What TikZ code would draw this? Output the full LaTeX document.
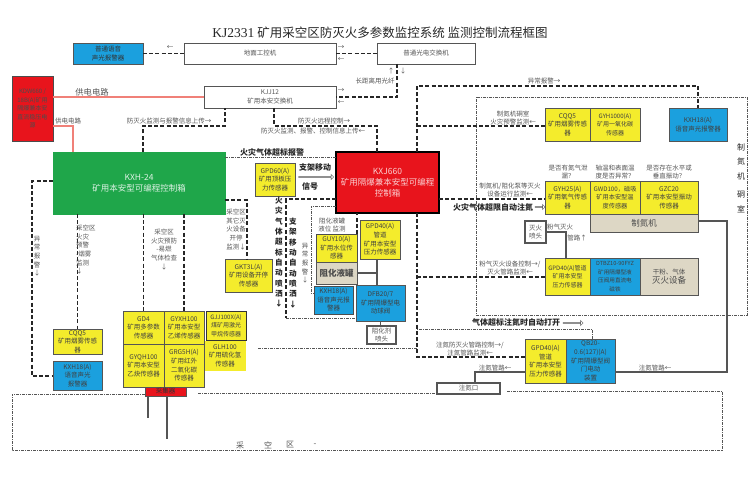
\documentclass[tikz,border=0pt]{standalone}
\usepackage{fontspec}
\usepackage{xcolor}
\usetikzlibrary{shapes.arrows,arrows.meta,positioning}
\setmainfont{Noto Sans CJK SC}
\newfontfamily\latnfont{Liberation Serif}
\definecolor{kjyellow}{HTML}{F4EC2C}
\definecolor{kjblue}{HTML}{1BA0DE}
\definecolor{kjred}{HTML}{E8141C}
\definecolor{kjgreen}{HTML}{1FA64A}
\definecolor{kjbeige}{HTML}{DDD7C5}
\definecolor{kjgray}{HTML}{555555}
\definecolor{kjpink}{HTML}{F08078}
\newcommand{\cnsmall}{\fontsize{6.5}{8.6}\selectfont}
\newcommand{\cnbig}{\fontsize{7.6}{10.3}\selectfont}

\begin{document}
\begin{tikzpicture}[
    x=1pt,y=-1pt,
    box/.style={rectangle,draw=kjgray,line width=0.9pt,anchor=north west,inner sep=0pt,
                outer sep=0pt,align=center,font=\cnsmall,text=kjgray},
    sz/.style 2 args={minimum width=#1pt,minimum height=#2pt},
    sensor/.style={box,fill=kjyellow,text=black!75},
    bluebox/.style={box,fill=kjblue,text=black!75},
    plainbox/.style={box,fill=white},
    tankbox/.style={box,fill=kjbeige,text=black!70},
    note/.style={font=\cnsmall,text=kjgray,align=center,inner sep=0pt},
    boldnote/.style={font=\cnbig\bfseries,text=black!85,align=center,inner sep=0pt},
    sig/.style={line width=1.2pt,black!85,dash pattern=on 4pt off 2.2pt},
    fine/.style={line width=0.7pt,kjgray,dash pattern=on 3pt off 1pt on 1pt off 1pt},
    pow/.style={line width=2pt,kjpink},
    pipe/.style={line width=1.7pt,kjgray},
    hollow/.style={single arrow,draw=kjgray,fill=white,line width=0.5pt,inner sep=0pt,
                   single arrow head extend=2pt,minimum width=5pt}
  ]
    \useasboundingbox (0,0) rectangle (750,481);

    \node[font=\fontsize{12.5}{14}\selectfont,text=black!85,inner sep=0pt] (title) at (380,33)
      {{\latnfont\fontsize{13.5}{14}\selectfont KJ2331}\ 矿用采空区防灭火多参数监控系统\ 监测控制流程框图};

    % Frames of the two zones
    \node[rectangle,fine,draw,anchor=north west,inner sep=0pt,sz={271}{218}] (room) at (476,97) {};
    \draw[fine] (145,394) -- (12,394) -- (12,450) -- (722,450) -- (722,391) -- (506,391);
    \draw[fine] (198,393) -- (437,393);
    \draw[fine] (258,348) -- (417,348);

    % Top row
    \node[bluebox,sz={70}{21},text=black!80] (voice) at (73,43) {普通语音\\声光报警器};
    \node[plainbox,sz={152}{21}] (ipc) at (184,43) {地面工控机};
    \node[plainbox,sz={98}{21}] (optic) at (377,43) {普通光电交换机};
    \node[plainbox,sz={132}{22}] (kjj) at (204,86) {KJJ12\\矿用本安交换机};
    \node[box,fill=kjred,draw=black!70,sz={41}{65},text=black!70,font=\fontsize{6}{8.6}\selectfont]
      (psu) at (12,76) {KDW660 /\\18B(A)矿用\\隔爆兼本安\\直流稳压电\\源};

    % Controllers
    \node[box,fill=kjgreen,draw=kjgreen,sz={172}{62},text=white!85!kjgreen,
          font=\fontsize{8.5}{11}\selectfont] (plc) at (53,152)
      {KXH-24\\矿用本安型可编程控制箱};
    \node[box,fill=kjred,draw=black,line width=1.8pt,sz={103}{61},text=white!80!kjred,
          font=\fontsize{8.5}{11}\selectfont] (kxj) at (336,152)
      {KXJ660\\矿用隔爆兼本安型可编程\\控制箱};

    % Sensors left
    \node[sensor,sz={49}{25}] (cqqa) at (53,329) {CQQ5\\矿用烟雾传感\\器};
    \node[bluebox,sz={49}{29}] (voicea) at (53,361) {KXH18(A)\\语音声光\\报警器};
    \node[sensor,sz={41}{33}] (gda) at (123,311) {GD4\\矿用多参数\\传感器};
    \node[sensor,sz={40}{33},right=0pt of gda] (gyx) {GYXH100\\矿用本安型\\乙烯传感器};
    \node[sensor,sz={41}{43},below=0pt of gda] (gyq) {GYQH100\\矿用本安型\\乙炔传感器};
    \node[sensor,sz={40}{43},below=0pt of gyx] (grg) {GRG5H(A)\\矿用红外\\二氧化碳\\传感器};
    \node[sensor,draw=black!80,sz={40}{29},font=\fontsize{6}{8.6}\selectfont] (gjj) at (206,311)
      {GJJ100X(A)\\煤矿用激光\\甲烷传感器};
    \node[sensor,draw=kjyellow,sz={40}{29}] (glh) at (205,341) {GLH100\\矿用硫化氢\\传感器};
    \node[box,fill=kjred,draw=kjgray,sz={41}{9},text=black!80] (collect) at (145,387) {采集器};
    \node[sensor,sz={47}{33}] (gkt) at (225,259) {GKT3L(A)\\矿用设备开停\\传感器};
    \node[sensor,sz={40}{33}] (gpdsix) at (255,163) {GPD60(A)\\矿用顶板压\\力传感器};

    % Under the explosion-proof box
    \node[sensor,draw=black!70,sz={41}{28}] (guy) at (316,234) {GUY10(A)\\矿用水位传\\感器};
    \node[tankbox,sz={41}{22},below=0pt of guy,font=\fontsize{8.5}{10}\bfseries] (tank) {阻化液罐};
    \node[sensor,sz={40}{39}] (gpdfour) at (360,220) {GPD40(A)\\管道\\矿用本安型\\压力传感器};
    \node[bluebox,sz={39}{28},draw=black!70] (voiceb) at (314,286) {KXH18(A)\\语音声光报\\警器};
    \node[bluebox,sz={49}{36}] (dfb) at (356,285) {DFB20/7\\矿用隔爆型电\\动球阀};
    \node[plainbox,sz={29}{18},line width=1.2pt] (spraya) at (367,326) {阻化剂\\喷头};

    % Nitrogen room
    \node[sensor,sz={45}{33}] (cqqb) at (545,108) {CQQ5\\矿用烟雾传感\\器};
    \node[sensor,sz={50}{33},right=0pt of cqqb,font=\fontsize{6}{8.6}\selectfont] (gyh)
      {GYH1000(A)\\矿用一氧化碳\\传感器};
    \node[bluebox,sz={58}{33}] (voicec) at (669,108) {KXH18(A)\\语音声光报警器};
    \node[sensor,sz={45}{33}] (gyo) at (545,181) {GYH25(A)\\矿用氧气传感\\器};
    \node[sensor,sz={50}{33},right=0pt of gyo,font=\fontsize{6.2}{8.6}\selectfont] (gwd)
      {GWD100，磁吸\\矿用本安型温\\度传感器};
    \node[sensor,sz={58}{33},right=0pt of gwd] (gzc) {GZC20\\矿用本安型振动\\传感器};
    \node[tankbox,sz={108}{18},anchor=north east,font=\fontsize{8.5}{10}\selectfont]
      (maker) at (gzc.south east) {制氮机};
    \node[plainbox,sz={21}{22},line width=1.2pt] (sprayb) at (525,221) {灭火\\喷头};
    \node[sensor,sz={45}{37},font=\fontsize{6}{8.6}\selectfont] (gpdpow) at (545,258)
      {GPD40(A)管道\\矿用本安型\\压力传感器};
    \node[bluebox,sz={50}{37},right=0pt of gpdpow,font=\fontsize{5.6}{8.6}\selectfont] (dtb)
      {DTBZ10-90FYZ\\矿用隔爆型液\\压阀用直流电\\磁铁};
    \node[tankbox,sz={58}{37},right=0pt of dtb] (powder)
      {干粉、气体\\{\fontsize{8.5}{10}\selectfont 灭火设备}};
    \node[sensor,sz={41}{44}] (gpdinj) at (525,339) {GPD40(A)\\管道\\矿用本安型\\压力传感器};
    \node[bluebox,sz={49}{44},right=0pt of gpdinj] (qbz) {QB20-\\0.6(127)(A)\\矿用隔爆型阀\\门电动\\装置};
    \node[plainbox,sz={63}{11},line width=1.2pt] (inlet) at (437,383) {注氮口};

    % Bend points and buses
    \coordinate (fibre) at (397,97);
    \coordinate (upl) at (143,126);
    \coordinate (upr) at (225,126);
    \coordinate (dnl) at (274,126);
    \coordinate (dnr) at (377,126);
    \coordinate (feed) at (73,126);
    \coordinate (busr) at (417,126);
    \coordinate (bustop) at (417,86);
    \coordinate (buscor) at (698,86);
    \coordinate (leftal) at (32,181);
    \coordinate (leftbt) at (32,376);
    \coordinate (kxhsig) at (286,199);
    \coordinate (kxhbot) at (286,318);
    \coordinate (sidel) at (225,200);
    \coordinate (sider) at (247,200);
    \coordinate (pdn) at (417,277);
    \coordinate (pinj) at (417,357);
    \coordinate (lvl) at (311,206);
    \coordinate (lvb) at (311,293);
    \coordinate (openup) at (592,329);
    \coordinate (openl) at (417,329);
    \coordinate (pipea) at (727,221);
    \coordinate (pipeb) at (727,372);
    \coordinate (pipec) at (475,372);
    \coordinate (pipee) at (566,232);
    \coordinate (pipef) at (377,273);

    % Power
    \draw[pow] (kjj.west -| psu.east) -- (kjj.west);
    \draw[pow] (feed -| psu.east) -- (feed) -- (feed |- plc.north);

    % Upper network
    \draw[sig] (voice.east) -- (ipc.west);
    \draw[sig] (ipc.east) -- (optic.west);
    \draw[sig] (fibre |- optic.south) -- (fibre) -- (fibre -| kjj.east);
    \draw[sig] (upl |- plc.north) -- (upl) -- (upr) -- (upr |- kjj.south);
    \draw[sig] (dnl |- kjj.south) -- (dnl) -- (dnr) -- (dnr |- kxj.north);
    \draw[sig] (busr |- kxj.north) -- (bustop) -- (buscor) -- (buscor |- voicec.north);
    \draw[sig] (busr) -- (busr -| cqqb.west);

    % Lines below the green box
    \draw[sig] (leftal -| plc.west) -- (leftal) -- (leftbt) -- (leftbt -| voicea.west);
    \draw[sig] (cqqa.north |- plc.south) -- (cqqa.north);
    \draw[sig] (gda.north |- plc.south) -- (gda.north);
    \draw[sig] (gyx.north |- plc.south) -- (gyx.north);
    \draw[sig] (sidel) -- (sider) -- (sider |- gkt.north);
    \draw[fine] (plc.east |- 0,157) -- (kxj.west |- 0,157);

    % Lines around the red box
    \draw[sig] (kxj.west |- kxhsig) -- (kxhsig) -- (kxhsig |- kxhbot);
    \draw[fine] (kxhbot) -- (kxhbot -| dfb.west);
    \draw[fine] (lvl -| kxj.west) -- (lvl) -- (lvb) -- (lvb -| voiceb.west);
    \draw[sig] (guy.north east) -- (guy.north east |- kxj.south);
    \draw[sig] (kxj.east |- kxhsig) -- (kxhsig -| gyo.west);
    \draw[sig] (busr |- kxj.south) -- (pdn) -- (pinj) -- (pinj -| gpdinj.west);
    \draw[sig] (pdn) -- (pdn -| gpdpow.west);
    \draw[fine] (openup |- qbz.north) -- (openup) -- (openl);
    \draw[pipe] (gpdfour.south -| pipef) -- (pipef |- dfb.north);
    \draw[pipe] (pipef -| tank.east) -- (pipef);
    \draw[pipe] (spraya.north -| dfb.north) -- (dfb.south);

    % Pipes on the right
    \draw[pipe] (pipea -| gzc.east) -- (pipea) -- (pipeb) -- (pipeb -| qbz.east);
    \draw[pipe] (sprayb.east |- pipee) -- (pipee) -- (pipee |- gpdpow.north);
    \draw[pipe] (pipec |- inlet.north) -- (pipec) -- (pipec -| gpdinj.west);
    \draw[pipe] (148,396) -- (148,418);
    \draw[pipe] (167,396) -- (167,439);

    % Labels
    \node[font=\fontsize{8.3}{10}\selectfont,text=kjgray,inner sep=0pt] (lbpow) at (92,92) {供电电路};
    \node[note] (lbfeed) at (68,121) {供电电路};
    \node[note] (lbvoice) at (170,48) {←};
    \node[note] (lbipca) at (341,48) {→};
    \node[note] (lbipcb) at (341,60) {←};
    \node[note] (lbfib) at (375,81) {长距离用光纤};
    \node[note] (lbfiba) at (391,71) {↑};
    \node[note] (lbfibb) at (403,71) {↓};
    \node[note] (lbkjja) at (341,91) {→};
    \node[note] (lbkjjb) at (341,103) {←};
    \node[note] (lbupl) at (169,121) {防灭火监测与报警信息上传→};
    \node[note] (lbdna) at (324,121) {防灭火远程控制→};
    \node[note] (lbdnb) at (313,131) {防灭火监测、报警、控制信息上传←};
    \node[note] (lbabn) at (544,81) {异常报警→};
    \node[note] (lbcqq) at (513,118) {制氮机硐室\\火灾预警监测←};
    \node[boldnote,font=\fontsize{8}{10}\bfseries] (lbgas) at (272,152) {火灾气体超标报警};
    \node[note] (lbleak) at (568,172) {是否有氮气泄\\漏？};
    \node[note] (lbtemp) at (615,172) {轴温和表面温\\度是否异常？};
    \node[note] (lbvib) at (669,172) {是否存在水平或\\垂直振动？};
    \node[note] (lbrun) at (510,190) {制氮机/阻化泵等灭火\\设备运行监测←};
    \node[boldnote,font=\fontsize{8}{10}\bfseries] (lbauto) at (493,207) {火灾气体超限自动注氮};
    \node[hollow,minimum height=10pt] (arauto) at (540,207) {};
    \node[note,anchor=west] (lbpga) at (547,227) {粉气灭火};
    \node[note] (lbpgb) at (577,238) {管路↑};
    \node[note] (lbpowder) at (510,268) {粉气灭火设备控制→/\\灭火管路监测←};
    \node[boldnote,font=\fontsize{8}{10}\bfseries] (lbopen) at (516,322) {气体超标注氮时自动打开};
    \node[hollow,minimum height=20pt] (aropen) at (573,323) {};
    \node[note] (lbinj) at (470,349) {注氮防灭火管路控制→/\\注氮管路监测←};
    \node[note] (lbinja) at (495,368) {注氮管路←};
    \node[note] (lbinjb) at (655,368) {注氮管路←};
    \node[boldnote,text width=9pt,font=\fontsize{8}{14.5}\selectfont] (lbroom) at (741,178)
      {制\\氮\\机\\[4pt]硐\\室};
    \node[boldnote,font=\fontsize{8}{11}\bfseries,anchor=north] (lbmove) at (315,163) {支架移动};
    \node[hollow,minimum height=35pt] (armove) at (316,177) {};
    \node[boldnote,font=\fontsize{8}{11}\bfseries] (lbsig) at (310,186) {信号};
    \node[note,anchor=north] (lbother) at (236,209) {采空区\\其它灭\\火设备\\开停\\监测↓};
    \node[note,anchor=north west,align=left] (lbsmoke) at (76,225) {采空区\\火灾\\预警\\-烟雾\\监测\\↓};
    \node[note,anchor=north] (lbburn) at (164,229) {采空区\\火灾预防\\-易燃\\气体检查\\↓};
    \node[note,anchor=north,text width=8pt] (lbabna) at (37,236) {异\\常\\报\\警\\↓};
    \node[note,anchor=north,text width=8pt] (lbabnb) at (305,243) {异\\常\\报\\警\\↓};
    \node[note] (lblevel) at (332,225) {阻化液罐\\液位 监测};
    \node[boldnote,anchor=north,text width=8pt] (lbspa) at (279,197)
      {火\\灾\\气\\体\\超\\标\\自\\动\\喷\\洒\\↓};
    \node[boldnote,anchor=north,text width=8pt] (lbspb) at (293,218)
      {支\\架\\移\\动\\自\\动\\喷\\洒\\↓};
    \node[font=\fontsize{8}{10}\selectfont,text=kjgray,inner sep=0pt] (lbga) at (240,445) {采};
    \node[font=\fontsize{8}{10}\selectfont,text=kjgray,inner sep=0pt] (lbgb) at (268,445) {空};
    \node[font=\fontsize{8}{10}\selectfont,text=kjgray,inner sep=0pt] (lbgc) at (290,445) {区};
    \node[font=\fontsize{8}{10}\selectfont,text=kjgray,inner sep=0pt] (lbgd) at (315,445) {-};
\end{tikzpicture}
\end{document}
